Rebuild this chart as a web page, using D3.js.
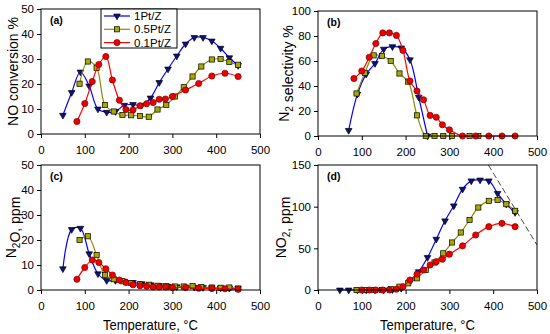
<!DOCTYPE html>
<html>
<head>
<meta charset="utf-8">
<script src="https://cdn.jsdelivr.net/npm/d3@7"></script>
<style>
  body { margin: 0; background: #fff; }
  svg { font-family: "Liberation Sans", Arial, sans-serif; }
</style>
</head>
<body>
<svg id="chart" width="550" height="334"></svg>
<script>
// temperatures for each catalyst
var temps1  = [50,70,90,110,130,150,170,190,210,230,250,270,290,310,330,350,370,390,410,430,450];
var temps05 = [88,107,127,146,166,186,206,226,246,266,286,306,326,346,366,390,410,430,450];
var temps01 = [82,100,117,132,148,163,179,194,210,226,241,256,270,284,300,330,360,390,420,450];

var seriesNames = ['1Pt/Z', '0.5Pt/Z', '0.1Pt/Z'];
var xTicks = [0,100,200,300,400,500];

// (a) NO conversion %
var noConv1  = [7.5,16.6,24.8,19.2,10,8.7,9,11.5,11.8,11.5,14.4,20.6,26,31.2,36,38.6,38.6,37.2,34.3,30.5,27.4];
var noConv05 = [20.1,29,26.5,11.6,9,7.6,7.5,7.2,6.9,9.8,11.6,15,18.7,23,27,29.8,30,28.8,27.7];
var noConv01 = [5,12.2,21,27.8,31,21.6,13.5,9.8,9.6,11.3,12.1,12.6,13.9,14,15,17.6,20.2,23.2,24.3,23];

// (b) N2 selectivity %
var n2Sel1  = [null,4.5,33.5,49.5,58,69.5,71.5,70.5,61,31,0,null,null,null,null,null,null,null,null,null,null];
var n2Sel05 = [34,50.5,64.5,64,60,50,43.5,16.5,0,0,0,0,null,0,0,null,null,null,null];
var n2Sel01 = [46,52,63,74,82.5,82.5,80.5,68.5,44,36,29,16.5,15,9,5,0,0,0,0,0];

// (c) N2O, ppm
var n2o1  = [8.5,24.2,24.7,14.5,6.5,3.8,3.8,3.5,3,2.5,2.1,1.8,1.5,1.3,1.2,1.1,1,0.9,0.8,0.7,0.6];
var n2o05 = [20,21.5,14,6,4.3,3.5,2.8,2.3,2.1,1.7,1.6,1.4,1.4,1.6,1.2,1,0.9,1,0.6];
var n2o01 = [4.3,9,12,11,8.5,6,4,3,2.1,1.7,1.5,1.2,1.2,1.2,1,1,0.7,0.6,0.5,0.3];

// (d) NO2, ppm
var no2_1  = [0,0,0,0,0,0,0.5,2,10,22,39,61,83,101,121,131,132,131,116,103,93];
var no2_05 = [0,0,0,0,1,4,8,14,24,33,44,57,69,84,99,107,108,103,95];
var no2_01 = [null,0,0,0,0,0,1,4,12,19,24,30,34,37,43,53,66,76,80,76];

// dashed guide in (d)
var guideX = [389, 500];
var guideY = [150, 54];

var lineColors   = ['#0000ff', '#8c8c00', '#ff0000'];
var markerFills  = ['#10107a', '#a8a800', '#ee0000'];
var markerStroke = ['#000000', '#000000', '#7a0000'];

var svg = d3.select('#chart');

function marker(sel, k) {
	if (k == 0) {
		sel.append('path')
			.attr('d', d3.symbol().type(d3.symbolTriangle).size(19)())
			.attr('transform', 'rotate(180)');
	} else if (k == 1) {
		sel.append('rect').attr('x', -2.6).attr('y', -2.6).attr('width', 5.2).attr('height', 5.2);
	} else {
		sel.append('circle').attr('r', 3.1);
	}
	sel.attr('fill', markerFills[k]).attr('stroke', markerStroke[k]).attr('stroke-width', 0.7);
}

function drawPanel(p) {
	var x = d3.scaleLinear().domain([0, 500]).range([p.left, p.right]);
	var y = d3.scaleLinear().domain([0, p.ymax]).range([p.bottom, p.top]);
	var g = svg.append('g');

	var clipId = 'clip' + p.tag;
	g.append('clipPath').attr('id', clipId).append('rect')
		.attr('x', p.left).attr('y', p.top)
		.attr('width', p.right - p.left).attr('height', p.bottom - p.top);

	g.append('g')
		.attr('transform', 'translate(0,' + p.bottom + ')')
		.call(d3.axisBottom(x).tickValues(xTicks).tickSize(4).tickPadding(8))
		.call(function(a) { a.select('.domain').remove(); });

	g.append('g')
		.attr('transform', 'translate(' + p.left + ',0)')
		.call(d3.axisLeft(y).tickValues(p.yTicks).tickSize(4).tickPadding(3))
		.call(function(a) { a.select('.domain').remove(); });

	g.selectAll('.tick text').attr('font-size', 11.5).attr('fill', '#000')
		.attr('font-family', '"Liberation Sans", Arial, sans-serif');
	g.selectAll('.tick line').attr('stroke', '#000');

	if (p.guide) {
		g.append('path')
			.attr('clip-path', 'url(#' + clipId + ')')
			.attr('d', d3.line()([[x(guideX[0]), y(guideY[0])], [x(guideX[1]), y(guideY[1])]]))
			.attr('stroke', '#333').attr('stroke-width', 0.9)
			.attr('stroke-dasharray', '6,3').attr('fill', 'none');
	}

	var temps = [temps1, temps05, temps01];
	p.series.forEach(function(vals, k) {
		var pts = [];
		vals.forEach(function(v, i) { if (v != null) pts.push([temps[k][i], v]); });
		g.append('path')
			.datum(pts)
			.attr('d', d3.line()
				.x(function(d) { return x(d[0]); })
				.y(function(d) { return y(d[1]); })
				.curve(d3.curveCatmullRom.alpha(0.5)))
			.attr('stroke', lineColors[k]).attr('stroke-width', 1.2).attr('fill', 'none');
		pts.forEach(function(d) {
			var m = g.append('g').attr('transform', 'translate(' + x(d[0]) + ',' + y(d[1]) + ')');
			marker(m, k);
		});
	});

	g.append('rect')
		.attr('x', p.left).attr('y', p.top)
		.attr('width', p.right - p.left).attr('height', p.bottom - p.top)
		.attr('fill', 'none').attr('stroke', '#000').attr('stroke-width', 1);

	g.append('text')
		.attr('x', p.left + 9).attr('y', p.top + 15)
		.attr('font-size', 10.5).attr('font-weight', 'bold')
		.text('(' + p.tag + ')');

	var lab = g.append('text')
		.attr('transform', 'translate(' + p.labelX + ',' + ((p.top + p.bottom) / 2) + ') rotate(-90)')
		.attr('text-anchor', 'middle').attr('font-size', 14);
	p.label.forEach(function(part) {
		if (part.sub) {
			lab.append('tspan').attr('font-size', 10).attr('dy', 4).text(part.t);
			lab.append('tspan').attr('dy', -4).text('');
		} else {
			lab.append('tspan').text(part.t);
		}
	});

	if (p.xlabel) {
		g.append('text')
			.attr('x', (p.left + p.right) / 2).attr('y', p.bottom + 40)
			.attr('text-anchor', 'middle').attr('font-size', 14.5)
			.attr('textLength', 95).attr('lengthAdjust', 'spacingAndGlyphs')
			.text('Temperature, °C');
	}
}

drawPanel({ tag: 'a', left: 41, right: 260, top: 9, bottom: 134, ymax: 50,
	yTicks: [0,10,20,30,40,50], labelX: 18,
	label: [{t: 'NO conversion %'}],
	series: [noConv1, noConv05, noConv01] });

drawPanel({ tag: 'b', left: 318, right: 537, top: 11, bottom: 136, ymax: 100,
	yTicks: [0,20,40,60,80,100], labelX: 289,
	label: [{t: 'N'}, {t: '2', sub: true}, {t: ' selectivity %'}],
	series: [n2Sel1, n2Sel05, n2Sel01] });

drawPanel({ tag: 'c', left: 41, right: 260, top: 165, bottom: 290, ymax: 50,
	yTicks: [0,10,20,30,40,50], labelX: 16, xlabel: true,
	label: [{t: 'N'}, {t: '2', sub: true}, {t: 'O, ppm'}],
	series: [n2o1, n2o05, n2o01] });

drawPanel({ tag: 'd', left: 318, right: 537, top: 165, bottom: 290, ymax: 150,
	yTicks: [0,50,100,150], labelX: 286, xlabel: true, guide: true,
	label: [{t: 'NO'}, {t: '2', sub: true}, {t: ', ppm'}],
	series: [no2_1, no2_05, no2_01] });

// legend in (a)
var leg = svg.append('g');
leg.append('rect').attr('x', 101).attr('y', 9).attr('width', 76).attr('height', 39)
	.attr('fill', '#fff').attr('stroke', '#000').attr('stroke-width', 1);
seriesNames.forEach(function(name, k) {
	var yy = 16 + k * 13.3;
	leg.append('line').attr('x1', 104).attr('x2', 130).attr('y1', yy).attr('y2', yy)
		.attr('stroke', lineColors[k]).attr('stroke-width', 1.2);
	var m = leg.append('g').attr('transform', 'translate(117,' + yy + ')');
	marker(m, k);
	leg.append('text').attr('x', 134).attr('y', yy + 4).attr('font-size', 11.5).text(name);
});
</script>
</body>
</html>
